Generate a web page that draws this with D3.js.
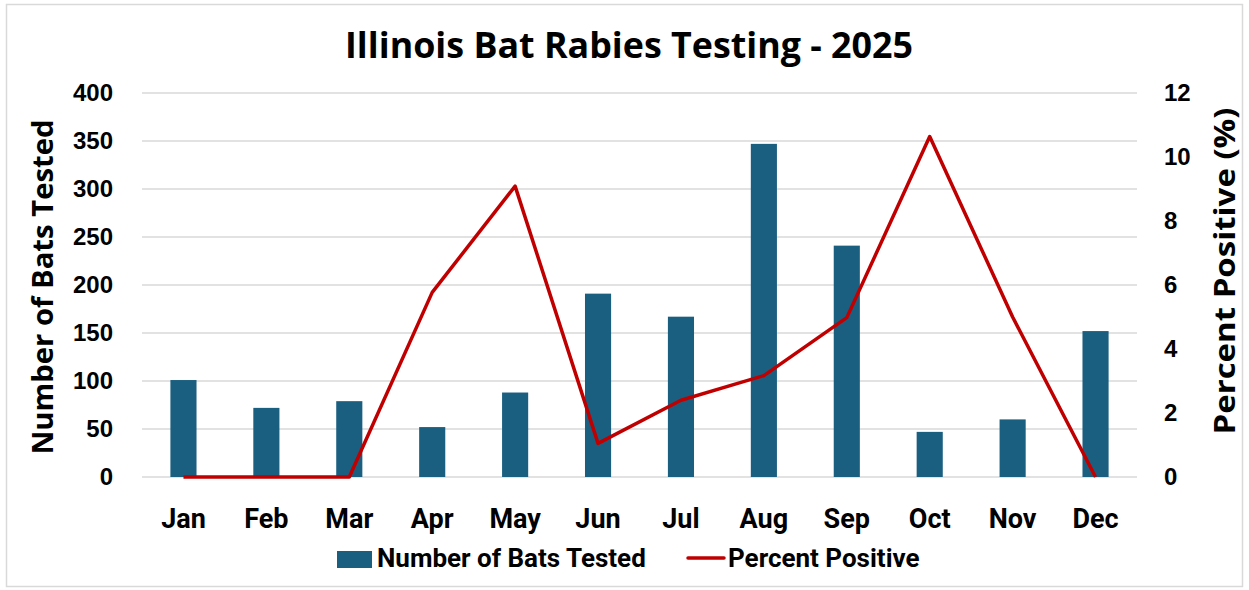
<!DOCTYPE html>
<html><head><meta charset="utf-8">
<script src="https://cdn.jsdelivr.net/npm/d3@7"></script>
<style>body{margin:0;background:#fff;}svg{display:block;}</style>
</head><body>
<svg id="c" width="1249" height="590"></svg>
<script>
const months = ["Jan","Feb","Mar","Apr","May","Jun","Jul","Aug","Sep","Oct","Nov","Dec"];
const batsTested = [101, 72, 79, 52, 88, 191, 167, 347, 241, 47, 60, 152];
const percentPositive = [0, 0, 0, 5.77, 9.09, 1.05, 2.40, 3.17, 4.98, 10.64, 5.0, 0];
const leftTicks = [0,50,100,150,200,250,300,350,400];
const rightTicks = [0,2,4,6,8,10,12];

const svg = d3.select("#c");
const L = 142, R = 1137, T = 93, B = 477;
const barColor = "#1A5F80", lineColor = "#C00000";
const roboto = "Roboto,'Liberation Sans',sans-serif";
const arial = "'Liberation Sans',Arial,sans-serif";
const open = "'Open Sans','Noto Sans',sans-serif";

svg.append("rect").attr("x",6.5).attr("y",4.5).attr("width",1236).attr("height",582)
  .attr("fill","#fff").attr("stroke","#d9d9d9").attr("stroke-width",1.5);

const x = d3.scaleBand().domain(months).range([L,R]).padding(0);
const yL = d3.scaleLinear().domain([0,400]).range([B,T]);
const yR = d3.scaleLinear().domain([0,12]).range([B,T]);

// gridlines
svg.append("g").selectAll("line").data(leftTicks).join("line")
  .attr("x1",L).attr("x2",R).attr("y1",d=>yL(d)).attr("y2",d=>yL(d))
  .attr("stroke","#d9d9d9").attr("stroke-width",1.5);

// left axis
const gl = svg.append("g").attr("transform",`translate(${L-29},0)`)
  .call(d3.axisLeft(yL).tickValues(leftTicks).tickSize(0).tickPadding(0));
gl.select(".domain").remove();
gl.selectAll("text").attr("font-family",arial).attr("font-weight","bold").attr("font-size",24).attr("fill","#000");

// right axis
const gr = svg.append("g").attr("transform",`translate(${R+27},0)`)
  .call(d3.axisRight(yR).tickValues(rightTicks).tickSize(0).tickPadding(0));
gr.select(".domain").remove();
gr.selectAll("text").attr("font-family",arial).attr("font-weight","bold").attr("font-size",24).attr("fill","#000");

// bottom axis
const gb = svg.append("g").attr("transform",`translate(0,${B})`)
  .call(d3.axisBottom(x).tickSize(0).tickPadding(0));
gb.select(".domain").remove();
gb.selectAll("text").attr("font-family",roboto).attr("font-weight","bold").attr("font-size",27).attr("fill","#000")
  .attr("y",51).attr("dy",0);

// bars
const bw = x.bandwidth()*0.315;
svg.append("g").selectAll("rect").data(months).join("rect")
  .attr("x",(d)=>x(d)+x.bandwidth()/2-bw/2)
  .attr("width",bw)
  .attr("y",(d,i)=>yL(batsTested[i]))
  .attr("height",(d,i)=>B-yL(batsTested[i]))
  .attr("fill",barColor);

// line
const line = d3.line().x((d,i)=>x(months[i])+x.bandwidth()/2).y(d=>yR(d));
svg.append("path").datum(percentPositive).attr("d",line)
  .attr("fill","none").attr("stroke",lineColor).attr("stroke-width",3.5).attr("stroke-linejoin","round");

// title
svg.append("text").attr("x",629).attr("y",58).attr("text-anchor","middle")
  .attr("font-family",open).attr("font-weight","bold").attr("font-size",36)
  .attr("textLength",568).attr("lengthAdjust","spacingAndGlyphs")
  .text("Illinois Bat Rabies Testing - 2025");

// axis titles
svg.append("text").attr("transform","translate(53,287) rotate(-90)").attr("text-anchor","middle")
  .attr("font-family",open).attr("font-weight","bold").attr("font-size",29)
  .attr("textLength",335).attr("lengthAdjust","spacingAndGlyphs")
  .text("Number of Bats Tested");
svg.append("text").attr("transform","translate(1235,271) rotate(-90)").attr("text-anchor","middle")
  .attr("font-family",open).attr("font-weight","bold").attr("font-size",29)
  .attr("textLength",327).attr("lengthAdjust","spacingAndGlyphs")
  .text("Percent Positive (%)");

// legend
const lg = svg.append("g");
lg.append("rect").attr("x",337).attr("y",551).attr("width",35).attr("height",17).attr("fill",barColor);
lg.append("text").attr("x",377).attr("y",567).attr("font-family",roboto).attr("font-weight","bold").attr("font-size",26).text("Number of Bats Tested");
lg.append("line").attr("x1",688).attr("x2",724).attr("y1",558).attr("y2",558).attr("stroke",lineColor).attr("stroke-width",3.5).attr("stroke-linecap","round");
lg.append("text").attr("x",728).attr("y",567).attr("font-family",roboto).attr("font-weight","bold").attr("font-size",26).text("Percent Positive");
</script>
</body></html>
